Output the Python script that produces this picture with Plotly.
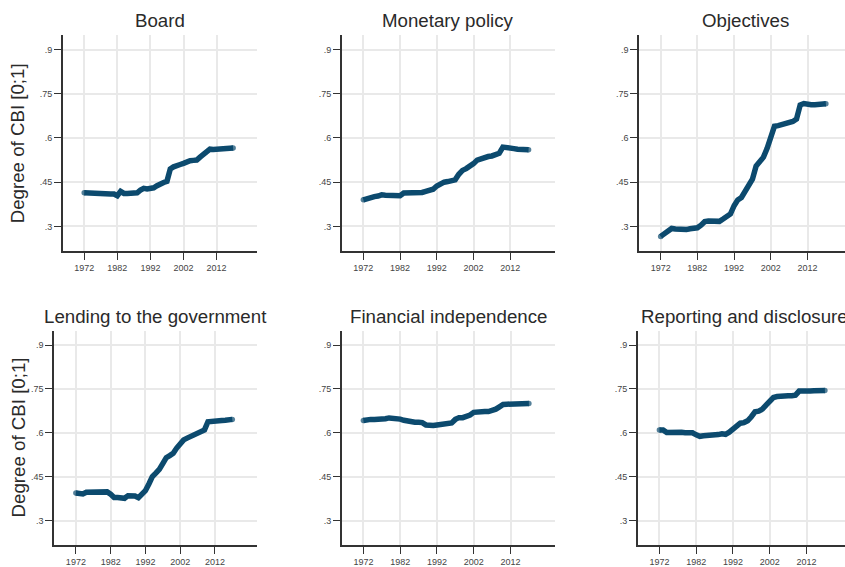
import plotly.graph_objects as go

# ---- data -------------------------------------------------------------
years = list(range(1972, 2018))

board = [0.414, 0.413, 0.412, 0.411, 0.410, 0.409, 0.409, 0.409, 0.410, 0.410,
         0.404, 0.419, 0.412, 0.412, 0.412, 0.412, 0.414, 0.423, 0.429, 0.427,
         0.427, 0.431, 0.438, 0.445, 0.449, 0.453, 0.495, 0.502, 0.504, 0.510,
         0.514, 0.520, 0.523, 0.524, 0.525, 0.535, 0.545, 0.550, 0.562, 0.561,
         0.561, 0.562, 0.563, 0.564, 0.565, 0.566]

monetary_policy = [0.390, 0.395, 0.399, 0.401, 0.403, 0.407, 0.406, 0.406, 0.407, 0.408,
                   0.404, 0.413, 0.413, 0.414, 0.415, 0.415, 0.415, 0.419, 0.421, 0.426,
                   0.437, 0.445, 0.450, 0.452, 0.453, 0.458, 0.477, 0.490, 0.496, 0.502,
                   0.513, 0.525, 0.530, 0.534, 0.537, 0.539, 0.543, 0.548, 0.569, 0.566,
                   0.565, 0.564, 0.562, 0.560, 0.559, 0.560]

objectives = [0.266, 0.277, 0.283, 0.293, 0.291, 0.289, 0.289, 0.289, 0.292, 0.295,
              0.295, 0.304, 0.316, 0.318, 0.318, 0.317, 0.317, 0.325, 0.334, 0.342,
              0.370, 0.390, 0.398, 0.420, 0.440, 0.460, 0.505, 0.522, 0.535, 0.565,
              0.600, 0.640, 0.642, 0.645, 0.648, 0.652, 0.656, 0.664, 0.712, 0.717,
              0.714, 0.713, 0.713, 0.713, 0.714, 0.716]

lending = [0.394, 0.394, 0.391, 0.397, 0.397, 0.397, 0.398, 0.399, 0.399, 0.398,
           0.390, 0.379, 0.379, 0.377, 0.376, 0.385, 0.385, 0.384, 0.378, 0.390,
           0.402, 0.425, 0.450, 0.462, 0.475, 0.495, 0.515, 0.522, 0.530, 0.548,
           0.565, 0.576, 0.582, 0.588, 0.594, 0.599, 0.603, 0.610, 0.638, 0.638,
           0.640, 0.641, 0.642, 0.643, 0.644, 0.646]

financial = [0.642, 0.645, 0.646, 0.646, 0.646, 0.646, 0.648, 0.651, 0.651, 0.649,
             0.647, 0.643, 0.639, 0.637, 0.636, 0.636, 0.635, 0.627, 0.624, 0.625,
             0.627, 0.629, 0.632, 0.634, 0.634, 0.646, 0.652, 0.652, 0.655, 0.661,
             0.670, 0.672, 0.673, 0.673, 0.673, 0.676, 0.681, 0.689, 0.697, 0.698,
             0.699, 0.700, 0.701, 0.701, 0.701, 0.700]

reporting = [0.610, 0.610, 0.601, 0.602, 0.602, 0.602, 0.602, 0.600, 0.600, 0.600,
             0.593, 0.588, 0.590, 0.590, 0.590, 0.593, 0.594, 0.597, 0.595, 0.602,
             0.611, 0.621, 0.633, 0.635, 0.641, 0.655, 0.672, 0.674, 0.681, 0.695,
             0.709, 0.721, 0.724, 0.726, 0.727, 0.727, 0.727, 0.729, 0.743, 0.742,
             0.743, 0.743, 0.744, 0.744, 0.745, 0.745]

series = [board, monetary_policy, objectives, lending, financial, reporting]
titles = ["Board", "Monetary policy", "Objectives",
          "Lending to the government", "Financial independence",
          "Reporting and disclosure"]

x_ticks = [1972, 1982, 1992, 2002, 2012]
y_ticks = [0.3, 0.45, 0.6, 0.75, 0.9]
y_tick_text = [".3", ".45", ".6", ".75", ".9"]
y_title = "Degree of CBI [0;1]"

# ---- layout geometry (pixels) -----------------------------------------
W, H = 845, 567
FONT = "Liberation Sans, Arial, Helvetica, sans-serif"
LINE_COLOR = "#0c4a6e"
Y_RANGE = (0.215, 0.950)

# left, right, top, bottom of each plot box and the x range spanned
boxes = [
    (62.7, 257.3, 35.0, 252.3, (1965.5, 2024.3)),
    (341.7, 555.0, 35.0, 252.3, (1966.1, 2024.2)),
    (639.0, 852.3, 35.0, 252.3, (1966.1, 2024.2)),
    (54.0, 257.3, 331.7, 547.3, (1965.7, 2024.2)),
    (341.7, 555.0, 331.7, 547.3, (1966.1, 2024.1)),
    (637.7, 851.0, 331.7, 547.3, (1966.1, 2024.1)),
]

fig = go.Figure()
annotations = []
layout_axes = {}

for i, (vals, title, box) in enumerate(zip(series, titles, boxes)):
    x0, x1, top, bot, (r0, r1) = box
    title_cx = (x0 + x1) / 2
    # the right column runs past the page edge; keep the visible part only
    if x1 > W:
        r1 = r0 + (W - x0) / (x1 - x0) * (r1 - r0)
        x1 = W
    n = "" if i == 0 else str(i + 1)
    axis_common = dict(
        showgrid=True, gridcolor="#e9e9e9", gridwidth=1.5,
        showline=True, linecolor="#333333", linewidth=1.5,
        ticks="outside", ticklen=7, tickwidth=1.2, tickcolor="#333333",
        tickfont=dict(family=FONT, size=9, color="#444444"),
        zeroline=False, fixedrange=True,
    )
    layout_axes["xaxis" + n] = dict(
        axis_common, domain=[x0 / W, x1 / W], range=[r0, r1],
        tickvals=x_ticks, ticktext=[str(t) for t in x_ticks],
        anchor="y" + n,
    )
    layout_axes["yaxis" + n] = dict(
        axis_common, domain=[1 - bot / H, 1 - top / H], range=list(Y_RANGE),
        tickvals=y_ticks, ticktext=y_tick_text,
        anchor="x" + n,
    )
    sizes = [5.5] + [0] * (len(vals) - 2) + [5.5]
    fig.add_trace(go.Scatter(
        x=years, y=vals, mode="lines+markers",
        line=dict(color=LINE_COLOR, width=5.5),
        marker=dict(color=LINE_COLOR, size=sizes, line=dict(width=0)),
        xaxis="x" + n, yaxis="y" + n, hoverinfo="skip", showlegend=False,
    ))
    annotations.append(dict(
        text=title, x=title_cx / W, y=1 - (top - 14.5) / H,
        xref="paper", yref="paper", xanchor="center", yanchor="middle",
        showarrow=False, font=dict(family=FONT, size=18.7, color="#2a2a2a"),
    ))
    if i % 3 == 0:
        annotations.append(dict(
            text=y_title, textangle=-90,
            x=(x0 - 45.5 if i == 0 else x0 - 35.5) / W,
            y=1 - (top + bot) / 2 / H,
            xref="paper", yref="paper", xanchor="center", yanchor="middle",
            showarrow=False, font=dict(family=FONT, size=18.7, color="#2a2a2a"),
        ))

fig.update_layout(
    width=W, height=H,
    margin=dict(l=0, r=0, t=0, b=0),
    paper_bgcolor="white", plot_bgcolor="white",
    annotations=annotations,
    hovermode=False,
    **layout_axes,
)

fig.write_html("out.html", config={"displayModeBar": False})
